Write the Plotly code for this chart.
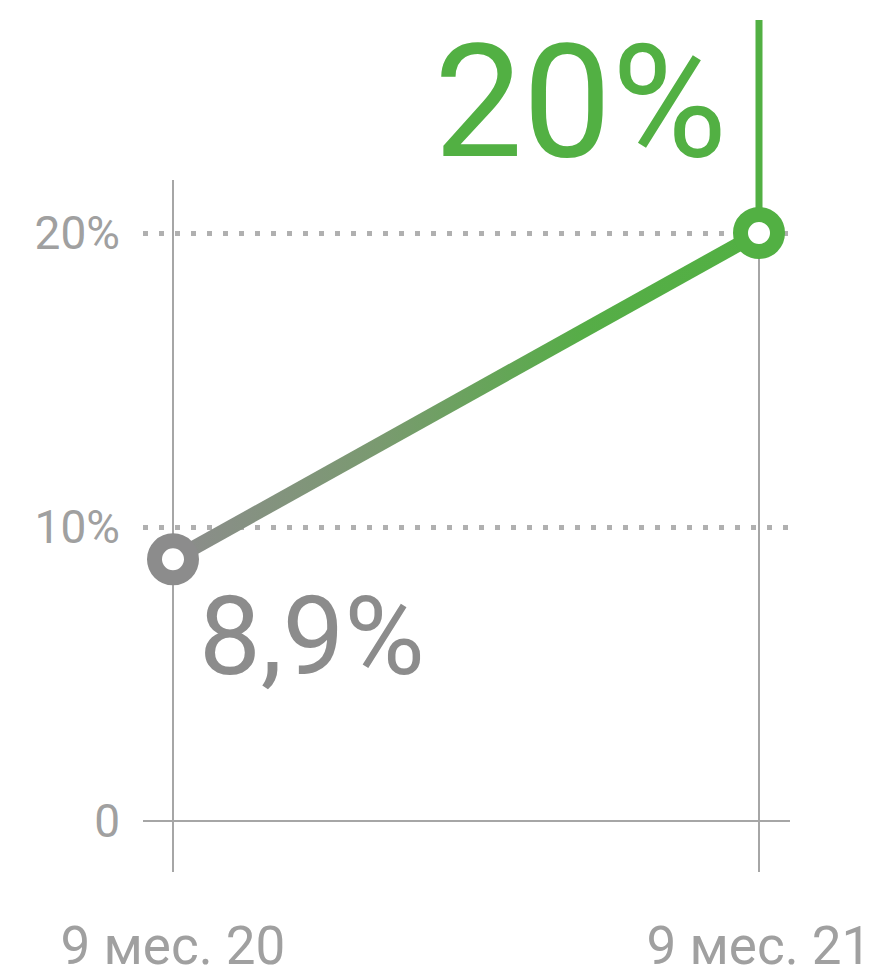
import plotly.graph_objects as go

# ---- data ----
categories = ["9 мес. 20", "9 мес. 21"]
values = [8.9, 20.0]
value_labels = ["8,9%", "20%"]
y_tickvals = [0, 10, 20]
y_ticktext = ["0", "10%", "20%"]

# ---- styles ----
GRAY = "#8c8c8c"
GREEN = "#52b043"
AXIS = "#a6a6a6"
TICK = "#a0a0a0"
FONT = "Roboto"

W, H = 869, 970
ML, MR, MT, MB = 135, 87, 12, 106
Y_MIN, Y_MAX = -1.735, 27.245
X_MIN, X_MAX = -0.0512, 1.0529
plot_h = H - MT - MB
px_per_unit = plot_h / (Y_MAX - Y_MIN)

xs = list(range(len(categories)))

fig = go.Figure()

# gradient line drawn as thin band following the data
half = 8.3 / px_per_unit
band_x = xs + xs[::-1] + [xs[0]]
band_y = [v - half for v in values] + [v + half for v in values[::-1]] + [values[0] - half]
fig.add_trace(go.Scatter(
    x=band_x, y=band_y, mode="lines", line=dict(width=0),
    fill="toself",
    fillgradient=dict(type="horizontal",
                      colorscale=[[0, GRAY], [0.35, "#7a9a70"], [0.7, "#56ad47"], [1, GREEN]]),
    hoverinfo="skip", showlegend=False,
))

# markers
fig.add_trace(go.Scatter(
    x=xs, y=values, mode="markers",
    marker=dict(size=37, color="white", line=dict(width=15, color=[GRAY, GREEN])),
    showlegend=False, hoverinfo="skip", cliponaxis=False,
))

# vertical guide lines
fig.add_shape(type="line", xref="x", yref="y", x0=xs[0], x1=xs[0], y0=Y_MIN, y1=21.8,
              line=dict(color=AXIS, width=2), layer="below")
fig.add_shape(type="line", xref="x", yref="y", x0=xs[1], x1=xs[1], y0=Y_MIN, y1=values[1],
              line=dict(color=AXIS, width=2), layer="below")
fig.add_shape(type="line", xref="x", yref="y", x0=xs[1], x1=xs[1], y0=values[1], y1=Y_MAX,
              line=dict(color=GREEN, width=7), layer="below")

# value annotations
fig.add_annotation(x=xs[1], y=values[1], xref="x", yref="y", text=value_labels[1],
                   showarrow=False, xanchor="right", yanchor="bottom", xshift=-30, yshift=36,
                   font=dict(family=FONT, size=158, color=GREEN))
fig.add_annotation(x=xs[0], y=values[0], xref="x", yref="y", text=value_labels[0],
                   showarrow=False, xanchor="left", yanchor="top", xshift=24, yshift=-11,
                   font=dict(family=FONT, size=110, color=GRAY))

fig.update_layout(
    width=W, height=H,
    margin=dict(l=ML, r=MR, t=MT, b=MB, autoexpand=False),
    paper_bgcolor="white", plot_bgcolor="white",
    font=dict(family=FONT, color=TICK),
    showlegend=False,
    xaxis=dict(range=[X_MIN, X_MAX], tickvals=xs, ticktext=categories, automargin=False,
               showgrid=False, zeroline=False, showline=False, ticks="",
               tickfont=dict(size=53, color=TICK), ticklabelstandoff=38),
    yaxis=dict(range=[Y_MIN, Y_MAX], tickvals=y_tickvals, ticktext=y_ticktext, automargin=False,
               showgrid=True, gridcolor="#b0b0b0", gridwidth=5, griddash="5px,11px",
               zeroline=True, zerolinecolor=AXIS, zerolinewidth=2,
               showline=False, ticks="",
               tickfont=dict(size=46, color=TICK), ticklabelstandoff=22),
)

fig.write_html("out.html")
